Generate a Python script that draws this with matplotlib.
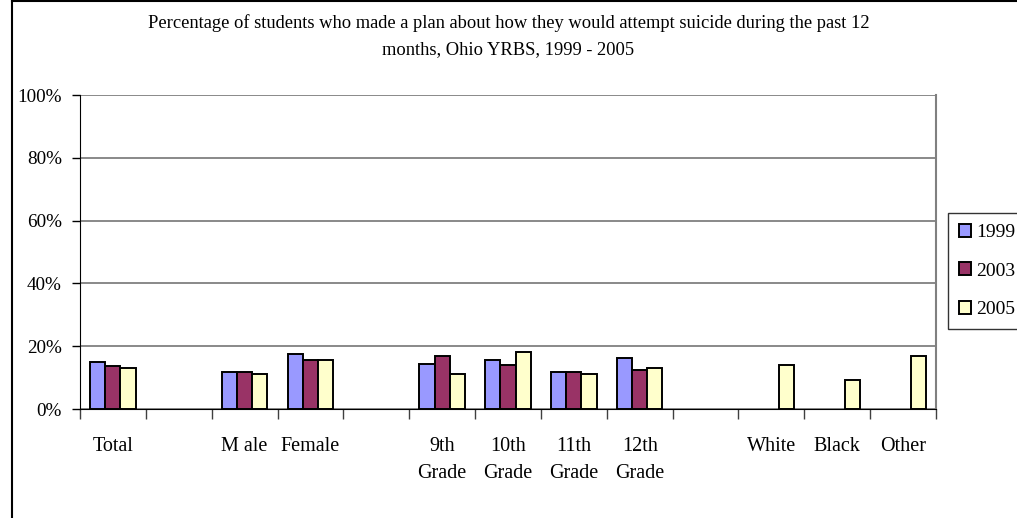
import numpy as np
import matplotlib
matplotlib.use("Agg")
import matplotlib.pyplot as plt
from matplotlib.lines import Line2D

plt.rcParams['font.family'] = ['Liberation Serif', 'DejaVu Serif']

# ------------------------------------------------------------
# DATA
# ------------------------------------------------------------
categories = ["Total", "", "M ale", "Female", "", "9th\nGrade", "10th\nGrade",
              "11th\nGrade", "12th\nGrade", "", "White", "Black", "Other"]
years = ["1999", "2003", "2005"]
v1999 = [15.1, np.nan, 11.8, 17.6, np.nan, 14.4, 15.6, 11.8, 16.3, np.nan, np.nan, np.nan, np.nan]
v2003 = [13.8, np.nan, 11.8, 15.6, np.nan, 17.0, 13.9, 11.8, 12.5, np.nan, np.nan, np.nan, np.nan]
v2005 = [13.1, np.nan, 11.3, 15.6, np.nan, 11.3, 18.2, 11.3, 13.1, np.nan, 13.9, 9.3, 17.0]
yticks = [0, 20, 40, 60, 80, 100]

colors = ["#9999FF", "#993366", "#FFFFCC"]
title = ("Percentage of students who made a plan about how they would attempt suicide during the past 12\n"
         "months, Ohio YRBS, 1999 - 2005")

# ------------------------------------------------------------
# PLOT
# ------------------------------------------------------------
W, H = 1017, 518
fig = plt.figure(figsize=(W / 100, H / 100), dpi=100)
ax = fig.add_axes([80 / W, 1 - 409 / H, (936 - 80) / W, (409 - 95) / H])

x = np.arange(len(categories))
w = 0.23
for i, (vals, c, lab) in enumerate(zip([v1999, v2003, v2005], colors, years)):
    ax.bar(x + (i - 1) * w, vals, width=w, color=c, edgecolor="black",
           linewidth=1.4, label=lab, zorder=3)

ax.set_xlim(-0.5, len(categories) - 0.5)
ax.set_ylim(0, 100)
ax.set_yticks(yticks)
ax.set_yticklabels([f"{t}%" for t in yticks], fontsize=13.8)
ax.yaxis.grid(True, color="#808080", linewidth=1.3, zorder=0)

ax.set_xticks(x)
ax.set_xticklabels(categories, fontsize=14.5, va="top", linespacing=1.6)
ax.tick_params(axis="x", which="major", length=0, pad=20)
ax.set_xticks(np.arange(len(categories) + 1) - 0.5, minor=True)
ax.tick_params(axis="x", which="minor", length=7, width=1, color="#404040")
ax.tick_params(axis="y", length=6, width=1, color="black", pad=7)

ax.spines["top"].set_visible(False)
ax.spines["right"].set_color("#808080")
ax.spines["right"].set_linewidth(1.5)
ax.spines["left"].set_color("black")
ax.spines["bottom"].set_color("black")

fig.text(0.5, 1 - 36 / H, title, ha="center", va="center", fontsize=13.3, linespacing=1.75)

leg = fig.legend(loc="upper left", bbox_to_anchor=(948 / W, 1 - 213 / H),
                 fontsize=14, frameon=True, fancybox=False, edgecolor="black",
                 handlelength=0.65, handleheight=0.65, handletextpad=0.25,
                 labelspacing=1.1, borderpad=0.55, borderaxespad=0)
leg.get_frame().set_linewidth(1)

# outer chart border (left and top edges visible in the reference)
fig.add_artist(Line2D([12 / W, 12 / W], [0, 1 - 1 / H], transform=fig.transFigure,
                      color="black", linewidth=1.5))
fig.add_artist(Line2D([12 / W, 1], [1 - 1 / H, 1 - 1 / H], transform=fig.transFigure,
                      color="black", linewidth=1.5))

fig.savefig("out.png", dpi=100)
